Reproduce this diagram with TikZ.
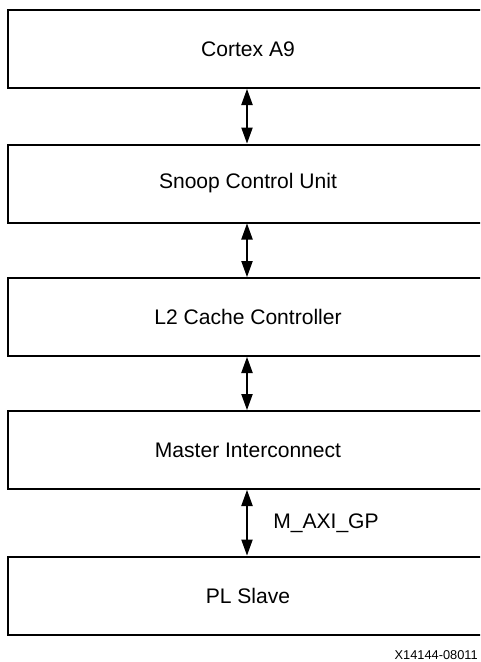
\documentclass[tikz,border=0pt]{standalone}
\usepackage{fontspec}
\setmainfont{Liberation Sans}
\usetikzlibrary{arrows.meta,positioning}
\tikzset{
  block/.style={draw=black, line width=1.5pt, minimum width=360pt, minimum height=58.5pt,
    inner sep=0pt, font=\fontsize{15.8}{19}\selectfont},
  busarrow/.style={line width=0.8pt, {Triangle[length=12pt,width=8.5pt]}-{Triangle[length=12pt,width=8.5pt]}}
}

\begin{document}
\begin{tikzpicture}[x=0.75pt, y=-0.75pt]

  \useasboundingbox (0,0) rectangle (480,662);
  \clip (0,0) rectangle (480,662);

  % Processor side blocks
  \node[block] (cortex) at (248,49) {Cortex A9};
  \node[block] (scu) at (248,183.5) {Snoop Control Unit};
  \node[block] (ltwo) at (248,317) {L2 Cache Controller};
  \node[block] (master) at (248,450) {Master Interconnect};

  % Programmable logic
  \node[block] (plslave) at (248,595.5) {PL Slave};

  % Connections
  \draw[busarrow] ([xshift=-0.75pt]cortex.south) -- ([xshift=-0.75pt]scu.north);
  \draw[busarrow] ([xshift=-0.75pt]scu.south) -- ([xshift=-0.75pt]ltwo.north);
  \draw[busarrow] ([xshift=-0.75pt]ltwo.south) -- ([xshift=-0.75pt]master.north);
  \draw[busarrow] ([xshift=-0.75pt]master.south) -- ([xshift=-0.75pt]plslave.north)
    node[midway, right=16pt, font=\fontsize{15.8}{19}\selectfont] (axigp) {M\_AXI\_GP};

  % Figure number
  \node[anchor=base east, inner sep=0pt, font=\fontsize{9.6}{11}\selectfont] (fignum) at (478,659.5) {X14144-08011};

\end{tikzpicture}
\end{document}
